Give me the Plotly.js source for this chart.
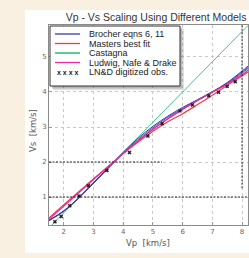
<!DOCTYPE html>
<html><head><meta charset="utf-8">
<script src="https://cdn.plot.ly/plotly-3.0.1.min.js"></script>
<style>
html,body{margin:0;padding:0;background:#faf0e2;width:249px;height:258px;overflow:hidden}
#chart{position:absolute;left:25px;top:10px;width:224px;height:243px;}
</style>
</head><body><div id="chart"></div>
<script>
// ---- data ----
const vpGrid      = [1.5, 2, 2.5, 3, 3.5, 4, 4.5, 5, 5.5, 6, 6.5, 7, 7.5, 8, 8.2];
const brocherVs   = [0.34,0.61,0.98,1.41,1.85,2.28,2.68,3.02,3.31,3.56,3.78,4.01,4.27,4.60,4.74];
const brocherVs2  = [0.33,0.60,0.97,1.40,1.83,2.26,2.64,2.98,3.28,3.53,3.77,4.00,4.25,4.57,4.70];
const brocherVs3  = [0.32,0.59,0.96,1.39,1.82,2.24,2.61,2.94,3.24,3.51,3.75,3.99,4.23,4.54,4.67];
const mastersVs   = [0.40,0.78,1.15,1.52,1.88,2.24,2.57,2.88,3.15,3.38,3.64,3.91,4.19,4.46,4.57];
const castagnaVp  = [1.5, 8.2];
const castagnaVs  = [0.12, 5.90];
const lndVs       = [0.36,0.74,1.12,1.50,1.87,2.24,2.60,2.93,3.23,3.50,3.76,4.00,4.23,4.49,4.62];
const obsVp       = [1.70,1.91,2.20,2.51,2.83,3.45,4.21,4.83,5.31,5.91,6.33,6.88,7.21,7.50,7.77];
const obsVs       = [0.29,0.44,0.75,1.03,1.32,1.76,2.27,2.74,3.09,3.46,3.63,3.89,3.99,4.16,4.29];
const refVs1 = 1, refVs2 = 2, refVs2End = 5.3, refVp8 = 8, refVp8From = 1.25;
const xTicks = [2,3,4,5,6,7,8];
const yTicks = [1,2,3,4,5];
const seriesNames = ['Brocher eqns 6, 11','Masters best fit','Castagna','Ludwig, Nafe & Drake','LN&D digitized obs.'];

const cBlue='#3a3aa8', cRed='#f03a48', cGreen='#33bb77', cMag='#ee2aa0';
const xRange=[1.5,8.2], yRange=[0.2,5.914];

const traces = [
  {x:castagnaVp,y:castagnaVs,mode:'lines',name:seriesNames[2],line:{color:cGreen,width:0.9}},
  {x:vpGrid,y:brocherVs3,mode:'lines',line:{color:cBlue,width:0.9,shape:'spline'}},
  {x:vpGrid,y:brocherVs2,mode:'lines',line:{color:cBlue,width:0.9,shape:'spline'}},
  {x:vpGrid,y:brocherVs,mode:'lines',name:seriesNames[0],line:{color:cBlue,width:1,shape:'spline'}},
  {x:vpGrid,y:mastersVs,mode:'lines',name:seriesNames[1],line:{color:cRed,width:1.2,shape:'spline'}},
  {x:vpGrid,y:lndVs,mode:'lines',name:seriesNames[3],line:{color:cMag,width:1.2,shape:'spline'}},
  {x:obsVp,y:obsVs,mode:'markers',name:seriesNames[4],marker:{symbol:'x',size:3.5,color:'#222'}}
];

// paper-coordinate helpers for the hand-drawn legend (plot area px: x 49..248, y 25..225)
const PX=(px)=>(px-49)/199, PY=(py)=>(225-py)/200;

const refDash = {color:'#222',width:1,dash:'2px,1.5px'};
const shapes = [
  // reference dotted lines
  {type:'line',xref:'x',yref:'y',x0:xRange[0],x1:xRange[1],y0:refVs1,y1:refVs1,line:refDash},
  {type:'line',xref:'x',yref:'y',x0:xRange[0],x1:refVs2End,y0:refVs2,y1:refVs2,line:refDash},
  {type:'line',xref:'x',yref:'y',x0:refVp8,x1:refVp8,y0:refVp8From,y1:yRange[1],line:refDash},
  // legend shadow + box
  {type:'rect',xref:'paper',yref:'paper',x0:PX(53),x1:PX(184),y0:PY(90),y1:PY(29),fillcolor:'rgba(0,0,0,0.12)',line:{width:0},layer:'above'},
  {type:'rect',xref:'paper',yref:'paper',x0:PX(52),x1:PX(182),y0:PY(88.5),y1:PY(27.5),fillcolor:'rgba(0,0,0,0.18)',line:{width:0},layer:'above'},
  {type:'rect',xref:'paper',yref:'paper',x0:PX(50),x1:PX(180),y0:PY(86),y1:PY(26),fillcolor:'#fff',line:{color:'#333',width:1},layer:'above'}
];
const annotations = [];
const legendRows = [
  {name:seriesNames[0],color:cBlue,py:34},
  {name:seriesNames[1],color:cRed,py:43.5},
  {name:seriesNames[2],color:'#11aa55',py:53},
  {name:seriesNames[3],color:cMag,py:62.5},
  {name:seriesNames[4],color:null,py:72}
];
legendRows.forEach(r=>{
  if(r.color){
    shapes.push({type:'line',xref:'paper',yref:'paper',x0:PX(55),x1:PX(80),y0:PY(r.py),y1:PY(r.py),line:{color:r.color,width:1.3},layer:'above'});
  } else {
    annotations.push({xref:'paper',yref:'paper',x:PX(67.5),y:PY(r.py),text:'<b>x x x x</b>',showarrow:false,xanchor:'center',yanchor:'middle',font:{family:'Liberation Sans, Arial',size:7,color:'#222'}});
  }
  annotations.push({xref:'paper',yref:'paper',x:PX(86.5),y:PY(r.py),text:r.name.replace('&','&amp;'),showarrow:false,xanchor:'left',yanchor:'middle',font:{family:'Liberation Sans, Arial',size:9,color:'#222'}});
});
// axis titles
annotations.push({xref:'paper',yref:'paper',x:PX(148),y:PY(243),text:'Vp\u00a0\u00a0[km/s]',showarrow:false,xanchor:'center',yanchor:'middle',font:{family:'DejaVu Sans',size:8.5,color:'#555'}});
annotations.push({xref:'paper',yref:'paper',x:PX(33),y:PY(131),text:'Vs\u00a0\u00a0[km/s]',textangle:-90,showarrow:false,xanchor:'center',yanchor:'middle',font:{family:'DejaVu Sans',size:8.5,color:'#555'}});

const axisCommon = {showgrid:true,gridcolor:'#c8c8c8',griddash:'dot',gridwidth:1,zeroline:false,
  showline:true,linecolor:'#8a8a8a',linewidth:1,mirror:true,ticks:'inside',ticklen:3,tickcolor:'#999',
  tickfont:{family:'DejaVu Sans',size:7,color:'#666'},fixedrange:true};

const layout = {
  width:224,height:243,
  margin:{l:24,r:1,t:15,b:28,pad:0},
  paper_bgcolor:'#fff',plot_bgcolor:'#fff',
  showlegend:false,
  title:{text:'Vp - Vs Scaling Using Different Models',font:{family:'Liberation Sans, Arial',size:10.5,color:'#333'},
         x:0.585,xref:'container',xanchor:'center',y:0.971,yref:'container',yanchor:'middle'},
  xaxis:Object.assign({},axisCommon,{range:xRange,tickvals:xTicks,ticktext:xTicks.map(String)}),
  yaxis:Object.assign({},axisCommon,{range:yRange,tickvals:yTicks,ticktext:yTicks.map(String)}),
  shapes:shapes,annotations:annotations
};
Plotly.newPlot('chart',traces,layout,{staticPlot:true,displayModeBar:false});
</script>
</body></html>
